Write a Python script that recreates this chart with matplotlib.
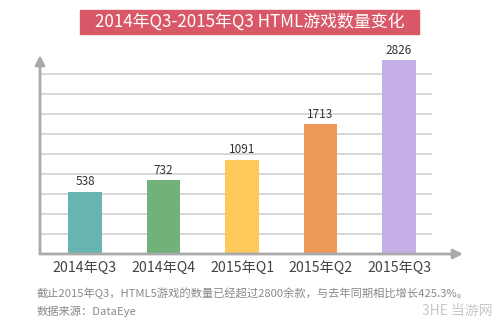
import numpy as np
import matplotlib.pyplot as plt
from matplotlib.patches import Rectangle

plt.rcParams['font.family'] = ['Noto Sans CJK SC', 'DejaVu Sans']

# datos
quarters = ['2014年Q3', '2014年Q4', '2015年Q1', '2015年Q2', '2015年Q3']
games = [538, 732, 1091, 1713, 2826]
colors = ['#68b4b0', '#70b27a', '#fdc95b', '#ee9858', '#c4b0e6']

title = '2014年Q3-2015年Q3 HTML游戏数量变化'
note = '截止2015年Q3，HTML5游戏的数量已经超过2800余款，与去年同期相比增长425.3%。'
source = '数据来源：DataEye'


def main():
    fig = plt.figure(figsize=(5, 3.26), dpi=100)
    ax = fig.add_axes([0.08, 0.2209, 0.846, 0.604])

    # el grafico original no empieza en cero
    base = -550
    step = 348
    x = np.arange(len(quarters))

    grid_y = base + step * np.arange(1, 10)
    ax.hlines(grid_y, -0.573, 4.42, color='#d4d4d4', lw=1.3, zorder=1)

    vals = np.array(games)
    ax.bar(x, vals - base, bottom=base, width=0.43, color=colors, zorder=2)
    for xi, v in zip(x, vals):
        ax.text(xi, v + 60, str(v), ha='center', va='bottom', fontsize=8.5, color='#333333')

    ax.set_xlim(-0.573, 4.815)
    ax.set_ylim(base, 2880)
    ax.set_xticks(x)
    ax.set_xticklabels(quarters, fontsize=10.2, color='#444444')
    ax.tick_params(axis='x', length=0, pad=5)
    ax.set_yticks([])
    for s in ax.spines.values():
        s.set_visible(False)

    # ejes con flechas
    arrow = dict(arrowstyle='-|>', color='#aaaaaa', lw=2, mutation_scale=14, shrinkA=0, shrinkB=0)
    ax.annotate('', xy=(0, 1.01), xytext=(0, 0), xycoords='axes fraction', arrowprops=arrow)
    ax.annotate('', xy=(1, 0), xytext=(0, 0), xycoords='axes fraction', arrowprops=arrow)

    # titulo en banda
    fig.patches.append(Rectangle((0.16, 0.8957), 0.678, 0.0736, transform=fig.transFigure,
                                 color='#d95868', zorder=0))
    fig.text(0.5, 0.932, title, ha='center', va='center', color='white', fontsize=12.2)

    fig.text(0.074, 0.101, note, ha='left', va='center', fontsize=8.1, color='#8a8a8a')
    fig.text(0.074, 0.046, source, ha='left', va='center', fontsize=8.1, color='#8a8a8a')
    fig.text(0.984, 0.046, '3HE 当游网', ha='right', va='center', fontsize=10, color='#c8c8c8')

    fig.savefig('out.png', dpi=100)


if __name__ == '__main__':
    main()
